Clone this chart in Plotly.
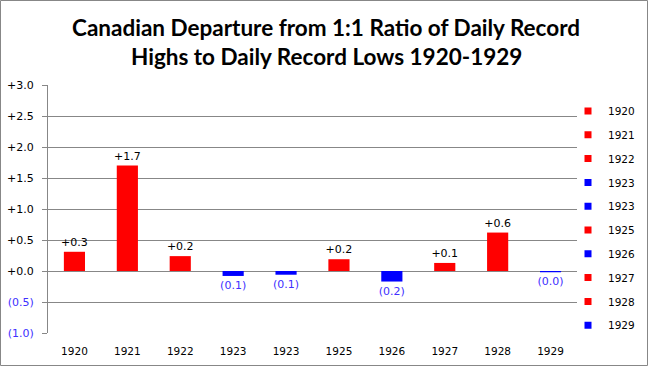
import plotly.graph_objects as go

years = ["1920", "1921", "1922", "1923", "1923", "1925", "1926", "1927", "1928", "1929"]
values = [0.31, 1.70, 0.24, -0.08, -0.06, 0.19, -0.17, 0.13, 0.62, -0.02]
labels = ["+0.3", "+1.7", "+0.2", "(0.1)", "(0.1)", "+0.2", "(0.2)", "+0.1", "+0.6", "(0.0)"]
ytick_vals = [3.0, 2.5, 2.0, 1.5, 1.0, 0.5, 0.0, -0.5, -1.0]
ytick_text = ["+3.0", "+2.5", "+2.0", "+1.5", "+1.0", "+0.5", "+0.0", "(0.5)", "(1.0)"]
title_lines = ["Canadian Departure from 1:1 Ratio of Daily Record",
               "Highs to Daily Record Lows 1920-1929"]

RED = "#FF0000"
BLUE = "#0000FF"
NEG_TXT = "#4030FF"
GRID = "#878787"

W, H = 649, 367
ML, MR, MT, MB = 48, 72, 85, 34
PW, PH = W - ML - MR, H - MT - MB

def py(p):
    return (MT + PH - p) / PH

def px(p):
    return (p - ML) / PW

pos = list(range(len(years)))
bar_colors = [RED if v >= 0 else BLUE for v in values]
txt_colors = ["#000000" if v >= 0 else NEG_TXT for v in values]

fig = go.Figure()
fig.add_trace(go.Bar(
    x=pos, y=values, width=0.4, marker=dict(color=bar_colors, line=dict(width=0)),
    text=labels, textposition="outside", constraintext="none",
    textfont=dict(color=txt_colors, size=11, family="DejaVu Sans"),
    cliponaxis=False, showlegend=False, hoverinfo="skip",
))
for i, (yr, v) in enumerate(zip(years, values)):
    fig.add_trace(go.Scatter(
        x=[None], y=[None], mode="markers", name=yr, legendgroup=f"g{i}",
        marker=dict(symbol="square", size=7, color=RED if v >= 0 else BLUE),
    ))

ytt = [t if v >= 0 else f"<span style='color:{NEG_TXT}'>{t}</span>" for t, v in zip(ytick_text, ytick_vals)]

ymin, ymax = -1.0, 3.0
zero_frac = (0 - ymin) / (ymax - ymin)

annotations = [
    dict(text=f"<b>{t}</b>", xref="paper", yref="paper", x=px(326), y=py(yc),
         xanchor="center", yanchor="middle", showarrow=False,
         font=dict(family="Lato", size=22.5, color="black"))
    for t, yc in zip(title_lines, [27, 56])
]

fig.update_layout(
    width=W, height=H,
    margin=dict(l=ML, r=MR, t=MT, b=MB, pad=0, autoexpand=False),
    paper_bgcolor="white", plot_bgcolor="white",
    font=dict(family="DejaVu Sans", size=10.5, color="black"),
    barmode="overlay",
    annotations=annotations,
    xaxis=dict(
        range=[-0.5, len(years) - 0.5], tickvals=pos, ticktext=years,
        showgrid=False, zeroline=False, showline=False, ticks="",
        ticklabelstandoff=10, fixedrange=True, automargin=False,
    ),
    xaxis2=dict(
        range=[-0.5, len(years) - 0.5], overlaying="x", anchor="free", position=zero_frac,
        side="bottom", showline=True, linecolor=GRID, linewidth=1,
        ticks="outside", ticklen=5, tickcolor=GRID, tickwidth=1,
        tickvals=[p - 0.5 for p in pos] + [len(years) - 0.5], showticklabels=False,
        showgrid=False, zeroline=False, automargin=False,
    ),
    yaxis=dict(
        range=[ymin, ymax], tickvals=ytick_vals, ticktext=ytt,
        showgrid=True, gridcolor=GRID, gridwidth=1, zeroline=False,
        showline=True, linecolor=GRID, linewidth=1,
        ticks="outside", ticklen=5, tickcolor=GRID, ticklabelstandoff=6,
        tickfont=dict(size=11), automargin=False,
    ),
    legend=dict(
        x=px(568), xanchor="left", y=py(218.5), yanchor="middle",
        font=dict(family="DejaVu Sans", size=10.5), tracegroupgap=4.8,
        bgcolor="rgba(0,0,0,0)", itemclick=False, itemdoubleclick=False,
        maxheight=400,
    ),
    shapes=[dict(
        type="rect", xref="paper", yref="paper",
        x0=px(0.5), x1=px(W - 1.5), y0=py(H - 1.5), y1=py(0.5),
        line=dict(color=GRID, width=1), fillcolor="rgba(0,0,0,0)", layer="above",
    )],
)

fig.write_html(
    "out.html",
    config={"displayModeBar": False, "staticPlot": True},
    post_script="document.body.style.margin='0';document.documentElement.style.overflow='hidden';document.body.style.overflow='hidden';",
)
